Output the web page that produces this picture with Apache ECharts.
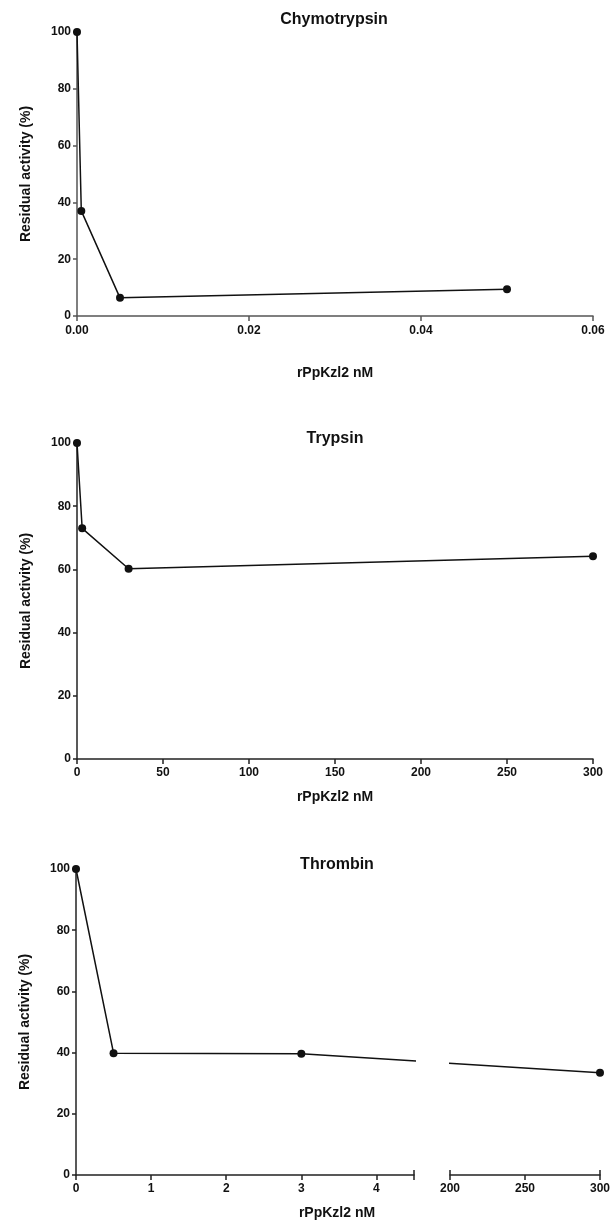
<!DOCTYPE html>
<html>
<head>
<meta charset="utf-8">
<script src="https://cdn.jsdelivr.net/npm/echarts@6/dist/echarts.min.js"></script>
<style>
html,body{margin:0;padding:0;background:#fff;}
#main{width:613px;height:1231px;}
</style>
</head>
<body>
<div id="main"></div>
<script>
// chymotrypsin
var chymoX = [0, 0.0005, 0.005, 0.05];
var chymoY = [100, 37, 6.4, 9.4];
// trypsin
var trypX = [0, 3, 30, 300];
var trypY = [100, 73, 60.2, 64.2];
// thrombin, x axis broken between 4.5 and 200
var thromX = [0, 0.5, 3, 300];
var thromY = [100, 39.8, 39.6, 33.4];

var chymoTicks = [0, 0.02, 0.04, 0.06];
var trypTicks = [0, 50, 100, 150, 200, 250, 300];
var thromLeftTicks = [0, 1, 2, 3, 4];
var thromRightTicks = [200, 250, 300];

var titles = ['Chymotrypsin', 'Trypsin', 'Thrombin'];
var xName = 'rPpKzl2 nM';
var yName = 'Residual activity (%)';

var FONT = '"Liberation Sans", Arial, sans-serif';
var INK = '#111';

// broken axis panels of the thrombin plot
var brk = {left: 76, leftW: 338, gap: 36, rightW: 150, leftMax: 4.5, rightMin: 200, rightMax: 300};
var pxL = brk.leftW / brk.leftMax;
var pxR = brk.rightW / (brk.rightMax - brk.rightMin);
function toLeftUnits(x){ return brk.leftMax + (brk.gap + (x - brk.rightMin) * pxR) / pxL; }
function toRightUnits(x){ return brk.rightMin - (brk.gap + (brk.leftMax - x) * pxL) / pxR; }

// the segment that crosses the break gets a ghost end in each panel,
// the grid clip then cuts it at the panel edge
var thromLeft = [], thromRight = [];
for (var i = 0; i < thromX.length; i++) {
	if (thromX[i] <= brk.leftMax) {
		thromLeft.push([thromX[i], thromY[i]]);
		if (i + 1 < thromX.length && thromX[i + 1] >= brk.rightMin) {
			thromLeft.push({value: [toLeftUnits(thromX[i + 1]), thromY[i + 1]], symbol: 'none'});
			thromRight.push({value: [toRightUnits(thromX[i]), thromY[i]], symbol: 'none'});
		}
	} else {
		thromRight.push([thromX[i], thromY[i]]);
	}
}

function pairs(xs, ys){
	return xs.map(function(x, k){ return [x, ys[k]]; });
}

function labelStyle(margin){
	return {margin: margin, fontFamily: FONT, fontWeight: 'bold', fontSize: 12, color: INK};
}

function yAxisOpt(gi, color, show){
	return {
		type: 'value', gridIndex: gi, min: 0, max: 100, interval: 20, show: show,
		name: yName, nameLocation: 'middle', nameGap: 44, nameRotate: 90,
		nameTextStyle: {fontFamily: FONT, fontWeight: 'bold', fontSize: 14, color: INK},
		axisLine: {show: true, lineStyle: {color: color, width: 1.5}},
		axisTick: {show: true, length: 4, lineStyle: {color: color, width: 1.5}},
		axisLabel: labelStyle(6),
		splitLine: {show: false}
	};
}

function lineSeries(xi, yi, data){
	return {
		type: 'line', xAxisIndex: xi, yAxisIndex: yi, data: data,
		symbol: 'circle', symbolSize: 8, clip: true,
		lineStyle: {color: INK, width: 1.5},
		itemStyle: {color: INK}
	};
}

function text(x, y, s, size){
	return {
		type: 'text', x: x, y: y,
		style: {
			text: s, font: 'bold ' + size + 'px ' + FONT, fill: INK,
			textAlign: 'center', textVerticalAlign: 'middle',
			align: 'center', verticalAlign: 'middle'
		}
	};
}

var myChart = echarts.init(document.getElementById('main'));
var option = {
	animation: false,
	backgroundColor: '#fff',
	grid: [
		{left: 77, width: 516, top: 32, height: 284},
		{left: 77, width: 516, top: 443, height: 316},
		{left: brk.left, width: brk.leftW, top: 869, height: 306},
		{left: brk.left + brk.leftW + brk.gap, width: brk.rightW, top: 869, height: 306}
	],
	xAxis: [
		{
			type: 'value', gridIndex: 0, min: 0, max: 0.06, interval: 0.02,
			name: xName, nameLocation: 'middle', nameGap: 50,
			nameTextStyle: {fontFamily: FONT, fontWeight: 'bold', fontSize: 14, color: INK},
			axisLine: {onZero: false, lineStyle: {color: '#555', width: 1.5}},
			axisTick: {length: 5, lineStyle: {color: '#555', width: 1.5}},
			axisLabel: Object.assign(labelStyle(9), {
				customValues: chymoTicks,
				formatter: function(v){ return v.toFixed(2); }
			}),
			splitLine: {show: false}
		},
		{
			type: 'value', gridIndex: 1, min: 0, max: 300, interval: 50,
			name: xName, nameLocation: 'middle', nameGap: 31,
			nameTextStyle: {fontFamily: FONT, fontWeight: 'bold', fontSize: 14, color: INK},
			axisLine: {onZero: false, lineStyle: {color: '#222', width: 1.5}},
			axisTick: {length: 5, lineStyle: {color: '#222', width: 1.5}},
			axisLabel: Object.assign(labelStyle(8), {customValues: trypTicks}),
			splitLine: {show: false}
		},
		{
			type: 'value', gridIndex: 2, min: 0, max: brk.leftMax, position: 'bottom',
			axisLine: {onZero: false, lineStyle: {color: '#222', width: 1.5}},
			axisTick: {length: 5, customValues: thromLeftTicks.concat([brk.leftMax]), lineStyle: {color: '#222', width: 1.5}},
			axisLabel: Object.assign(labelStyle(8), {customValues: thromLeftTicks}),
			splitLine: {show: false}
		},
		{
			type: 'value', gridIndex: 3, min: brk.rightMin, max: brk.rightMax, position: 'bottom',
			axisLine: {onZero: false, lineStyle: {color: '#222', width: 1.5}},
			axisTick: {length: 5, customValues: thromRightTicks, lineStyle: {color: '#222', width: 1.5}},
			axisLabel: Object.assign(labelStyle(8), {customValues: thromRightTicks}),
			splitLine: {show: false}
		},
		// upper halves of the break bars
		{
			type: 'value', gridIndex: 2, min: 0, max: brk.leftMax, position: 'bottom',
			axisLine: {show: false, onZero: false},
			axisTick: {inside: true, length: 5, customValues: [brk.leftMax], lineStyle: {color: '#222', width: 1.5}},
			axisLabel: {show: false}, splitLine: {show: false}
		},
		{
			type: 'value', gridIndex: 3, min: brk.rightMin, max: brk.rightMax, position: 'bottom',
			axisLine: {show: false, onZero: false},
			axisTick: {inside: true, length: 5, customValues: [brk.rightMin, brk.rightMax], lineStyle: {color: '#222', width: 1.5}},
			axisLabel: {show: false}, splitLine: {show: false}
		}
	],
	yAxis: [
		yAxisOpt(0, '#555', true),
		yAxisOpt(1, '#222', true),
		yAxisOpt(2, '#222', true),
		yAxisOpt(3, '#222', false)
	],
	graphic: [
		text(334, 20, titles[0], 16),
		text(335, 439, titles[1], 16),
		text(337, 865, titles[2], 16),
		text(337, 1213, xName, 14)
	],
	series: [
		lineSeries(0, 0, pairs(chymoX, chymoY)),
		lineSeries(1, 1, pairs(trypX, trypY)),
		lineSeries(2, 2, thromLeft),
		lineSeries(3, 3, thromRight)
	]
};
myChart.setOption(option);
</script>
</body>
</html>
